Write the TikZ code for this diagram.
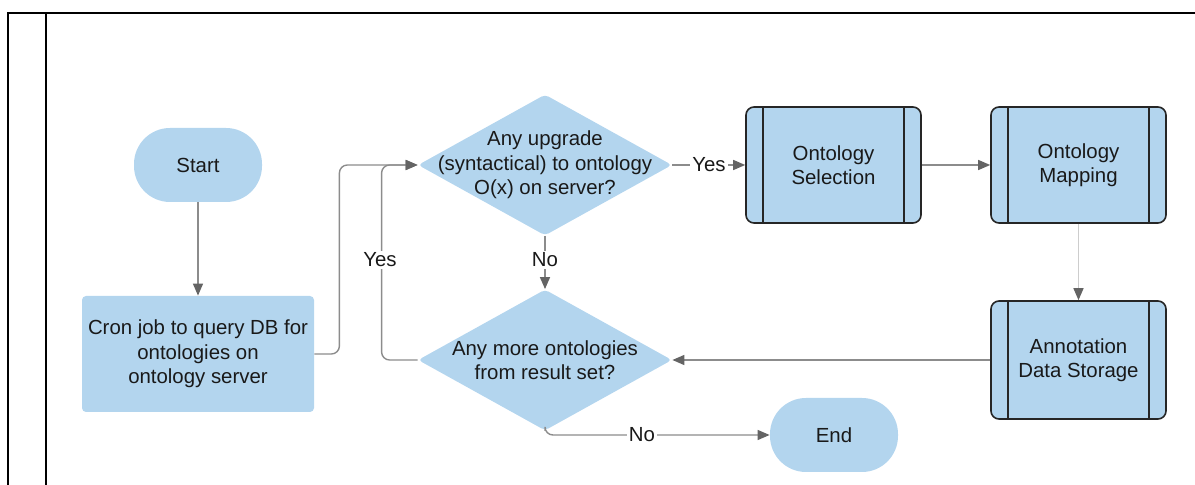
\documentclass[tikz,border=0pt]{standalone}
\usepackage{fontspec}
\setmainfont{Liberation Sans}
\usetikzlibrary{shapes.geometric,arrows.meta}
\definecolor{boxblue}{RGB}{179,213,238}
\definecolor{conngrey}{RGB}{140,140,140}
\definecolor{tipgrey}{RGB}{100,100,100}
\definecolor{lightconn}{RGB}{205,205,205}
\begin{document}
\begin{tikzpicture}[x=0.5pt,y=-0.5pt,
  every node/.style={font=\fontsize{10.2}{12.2}\selectfont, text=black!90},
  terminal/.style={fill=boxblue, rounded corners=18pt, minimum width=64pt, minimum height=37pt, inner sep=0pt},
  procbox/.style={fill=boxblue, rounded corners=2pt, minimum width=116pt, minimum height=58pt, inner sep=0pt, align=center},
  subproc/.style={fill=boxblue, draw=black!85, line width=0.8pt, rounded corners=4pt, minimum width=87.5pt, minimum height=58pt, inner sep=0pt, align=center},
  decision/.style={diamond, fill=boxblue, minimum width=127pt, minimum height=70.5pt, inner sep=0pt, rounded corners=2pt},
  dtext/.style={align=center, inner sep=0pt},
  conn/.style={draw=conngrey, line width=0.7pt, rounded corners=4pt, -{Triangle[length=6pt,width=5pt,color=tipgrey]}},
  plainconn/.style={draw=conngrey, line width=0.7pt, rounded corners=4pt},
  elabel/.style={fill=white, inner sep=1pt},
  frame/.style={draw=black, line width=1pt}
]
\useasboundingbox (0,0) rectangle (1195,485);
% frame
\draw[frame] (8,485) -- (8,13) -- (1195,13);
\draw[frame] (46,13) -- (46,485);

% nodes
\node[terminal] (start) at (198,165) {Start};
\node[procbox] (cron) at (198,354) {Cron job to query DB for\\ontologies on\\ontology server};
\node[decision] (d1) at (545,165) {};
\node[dtext] (d1t) at (545,165) {Any upgrade\\(syntactical) to ontology\\O(x) on server?};
\node[subproc] (sel) at (833.5,165) {Ontology\\Selection};
\node[subproc] (map) at (1078.5,165) {Ontology\\Mapping};
\node[subproc, minimum height=59pt] (ann) at (1078.5,360) {Annotation\\Data Storage};
\node[decision] (d2) at (545,360) {};
\node[dtext] (d2t) at (545,360) {Any more ontologies\\from result set?};
\node[terminal] (end) at (834,435) {End};

% inner lines of sub-process boxes
\foreach \n in {sel,map,ann}{
  \draw[black!85, line width=0.8pt] ([xshift=9pt]\n.north west) -- ([xshift=9pt]\n.south west);
  \draw[black!85, line width=0.8pt] ([xshift=-9pt]\n.north east) -- ([xshift=-9pt]\n.south east);
}

% connectors
\draw[conn] (start.south) -- (cron.north);
\draw[conn] (cron.east) -- ++(25,0) |- (d1.west);
\draw[conn] (d2.west) -- ++(-36,0) |- (d1.west);
\node[elabel] (yes2) at (380,260) {Yes};
\node[elabel] (yes1) at (709,165) {Yes};
\draw[plainconn] (d1.east) -- (yes1.west);
\draw[conn] (yes1.east) -- (sel.west);
\draw[conn] (sel.east) -- (map.west);
\draw[draw=lightconn, line width=0.7pt, -{Triangle[length=6pt,width=5pt,color=tipgrey]}] (map.south) -- (ann.north);
\draw[conn] (ann.west) -- (d2.east);
\draw[conn] (d1.south) -- (d2.north);
\node[elabel] (no1) at (545,260) {No};
\draw[conn] (d2.south) |- (end.west);
\node[elabel] (no2) at (642,435) {No};
\end{tikzpicture}
\end{document}
